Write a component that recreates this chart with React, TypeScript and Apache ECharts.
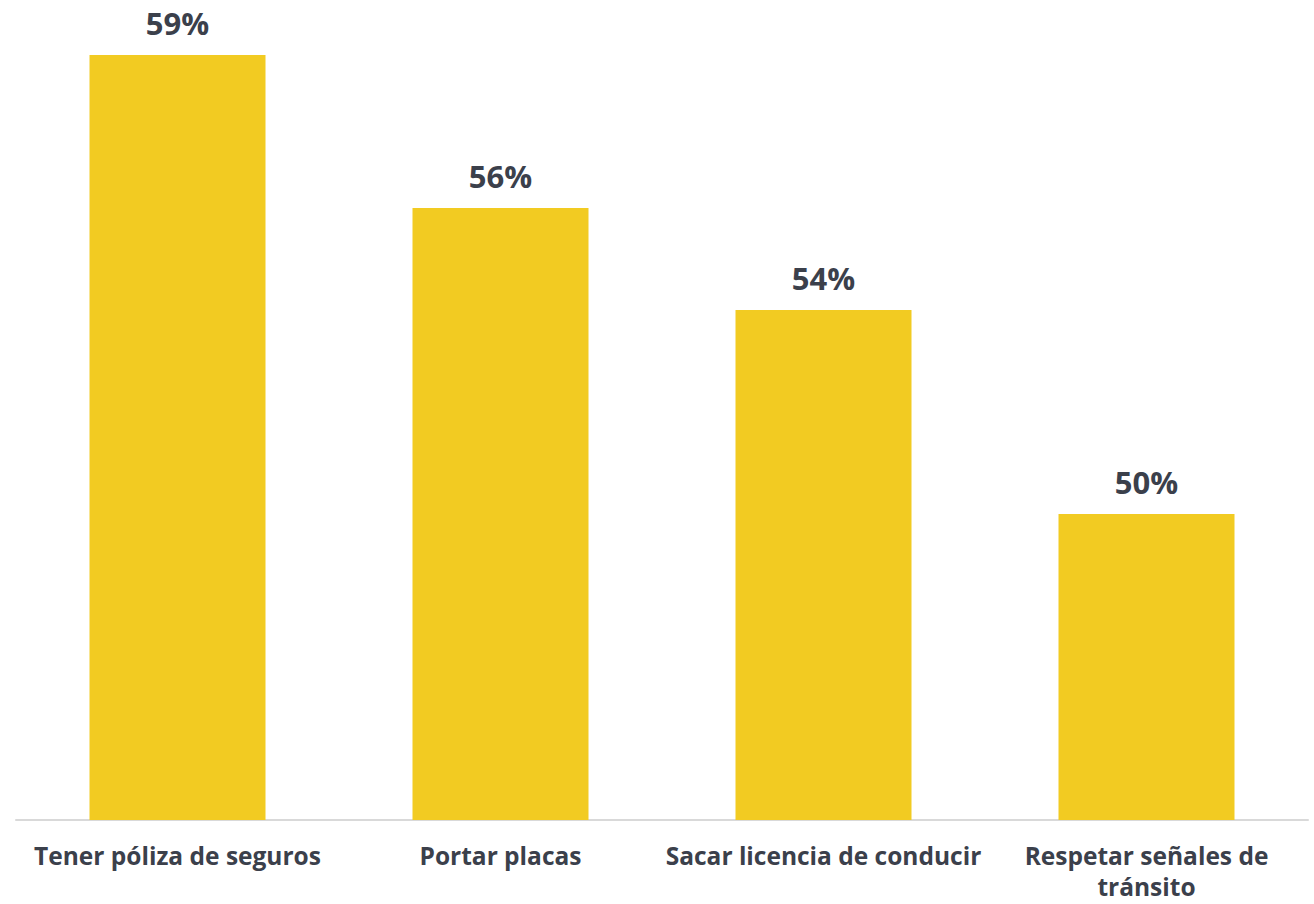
import React, { useEffect, useRef } from "react";
import * as echarts from "echarts";

const categories = [
  "Tener póliza de seguros",
  "Portar placas",
  "Sacar licencia de conducir",
  "Respetar señales de\ntránsito",
];
const values = [59, 56, 54, 50];

const TEXT = "#3b404b";
const BAR = "#F2CB22";

export default function App() {
  const ref = useRef<HTMLDivElement>(null);
  useEffect(() => {
    if (!ref.current) return;
    const chart = echarts.init(ref.current, null, { renderer: "svg" });
    chart.setOption({
      animation: false,
      grid: { left: 16, right: 6, top: 4, bottom: 84, containLabel: false },
      xAxis: {
        type: "category",
        data: categories,
        axisLine: { show: true, lineStyle: { color: "#d9d9d9", width: 2 } },
        axisTick: { show: false },
        axisLabel: {
          color: TEXT,
          fontFamily: "Open Sans",
          fontWeight: "bold",
          fontSize: 24.5,
          lineHeight: 31,
          margin: 20,
          interval: 0,
        },
      },
      yAxis: {
        type: "value",
        min: 44,
        max: 60,
        show: false,
        splitLine: { show: false },
      },
      series: [
        {
          type: "bar",
          data: values,
          barWidth: 176,
          itemStyle: { color: BAR },
          label: {
            show: true,
            position: "top",
            distance: 17,
            formatter: "{c}%",
            color: TEXT,
            fontFamily: "Open Sans",
            fontWeight: "bold",
            fontSize: 31,
          },
        },
      ],
    });
    return () => chart.dispose();
  }, []);
  return (
    <div
      ref={ref}
      style={{ position: "absolute", left: 0, top: 0, width: 1314, height: 904 }}
    />
  );
}
